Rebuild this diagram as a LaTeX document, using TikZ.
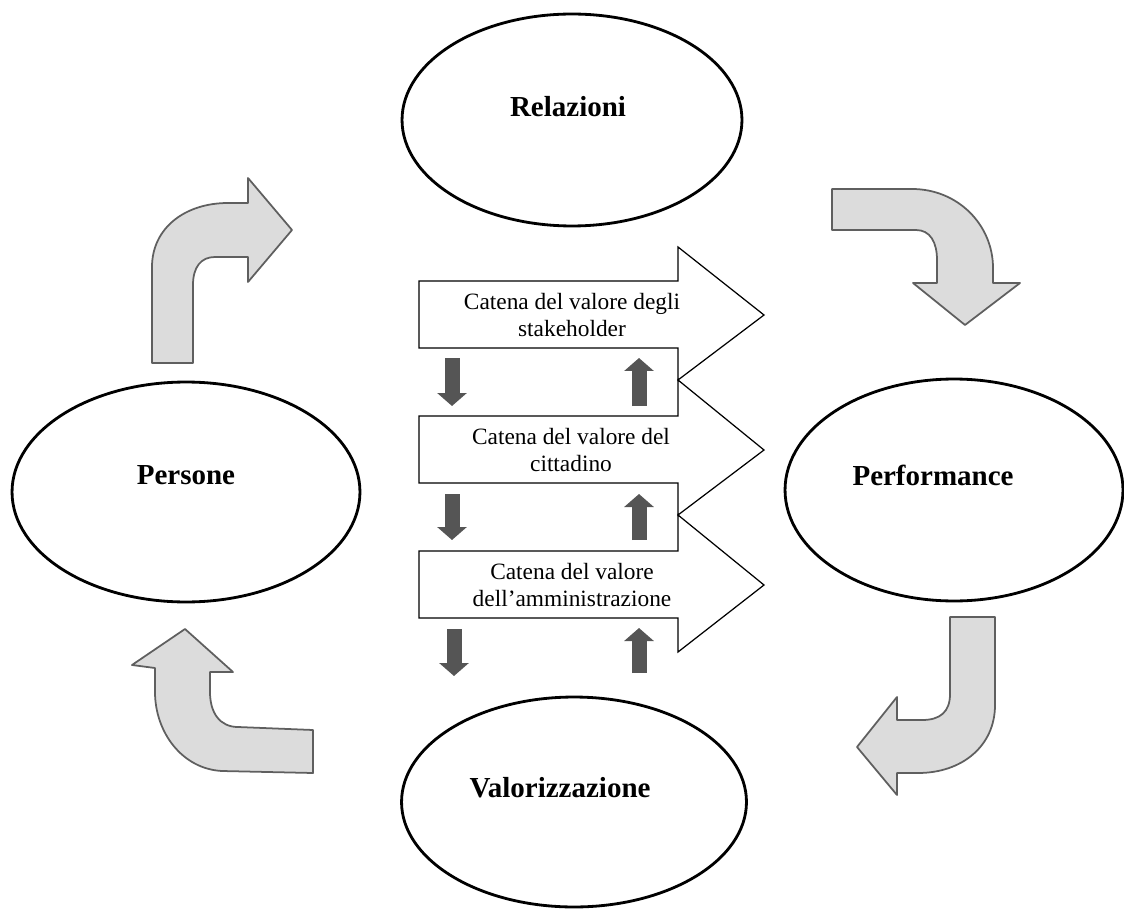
\documentclass[tikz,border=0pt]{standalone}
\usepackage{fontspec}
\setmainfont{Liberation Serif}
\usetikzlibrary{arrows.meta,calc,shapes.geometric}
\definecolor{turnfill}{RGB}{220,220,220}
\definecolor{turndraw}{RGB}{95,95,95}
\definecolor{passgrey}{RGB}{85,85,85}
\tikzset{
    area/.style={ellipse, draw, line width=1.6pt, inner sep=0pt},
    areatitle/.style={font=\fontsize{16.5}{19}\selectfont\bfseries},
    chainarrow/.style={draw, line width=0.7pt, fill=white, line join=miter},
    chaintext/.style={font=\fontsize{13.3}{15.5}\selectfont, align=center},
    turnarrow/.style={fill=turnfill, draw=turndraw, line width=1pt, line join=round},
    passing/.style={line width=0.3cm, draw=passgrey,
                    -{Triangle[width=0.58cm,length=0.26cm]}},
}

\begin{document}
\begin{tikzpicture}[x=0.02cm, y=-0.02cm]
    \path[use as bounding box] (0,0) rectangle (1124,908);

    % the four areas
    \node[area, minimum width=6.8cm, minimum height=4.24cm] (relazioni) at (572,120) {};
    \node[area, minimum width=6.96cm, minimum height=4.4cm] (persone) at (186,492) {};
    \node[area, minimum width=6.76cm, minimum height=4.44cm] (performance) at (954,490) {};
    \node[area, minimum width=6.9cm, minimum height=4.2cm] (valorizzazione) at (574,802) {};
    \node[areatitle] (relazionitext) at (568,107) {Relazioni};
    \node[areatitle] (personetext) at (186,475) {Persone};
    \node[areatitle] (performancetext) at (933,475) {Performance};
    \node[areatitle] (valorizzazionetext) at (560,788) {Valorizzazione};

    % the three value chains
    \draw[chainarrow] (419,281) -- (678,281) -- (678,247) -- (764,315)
        -- (678,380) -- (678,348) -- (419,348) -- cycle;
    \draw[chainarrow] (419,416) -- (678,416) -- (678,380) -- (764,450)
        -- (678,515) -- (678,483) -- (419,483) -- cycle;
    \draw[chainarrow] (419,551) -- (678,551) -- (678,515) -- (764,585)
        -- (678,652) -- (678,618) -- (419,618) -- cycle;
    \node[chaintext] (stakeholder) at (572,315) {Catena del valore degli\\stakeholder};
    \node[chaintext] (cittadino) at (571,450) {Catena del valore del\\cittadino};
    \node[chaintext] (amministrazione) at (572,585) {Catena del valore\\dell'amministrazione};

    \draw[passing] (452,358) -- (452,406);
    \draw[passing] (639,406) -- (639,358);
    \draw[passing] (452,494) -- (452,540);
    \draw[passing] (639,540) -- (639,494);
    \draw[passing] (454,629) -- (454,676);
    \draw[passing] (639,673) -- (639,628);

    % the cycle of bent arrows
    \draw[turnarrow] (152,363) -- (152,267) .. controls (152,228) and (185,203) .. (228,203)
        -- (248,203) -- (248,178) -- (292,230) -- (248,282) -- (248,257) -- (215,257)
        .. controls (201,257) and (193,267) .. (193,285) -- (193,363) -- cycle;
    \draw[turnarrow] (832,189) -- (912,189) .. controls (958,189) and (993,225) .. (993,268)
        -- (993,283) -- (1020,283) -- (965,325) -- (913,283) -- (937,283) -- (937,260)
        .. controls (937,242) and (930,230) .. (916,230) -- (832,230) -- cycle;
    \draw[turnarrow] (950,617) -- (995,617) -- (995,705) .. controls (995,746) and (962,773) .. (918,773)
        -- (897,773) -- (897,795) -- (857,747) -- (897,697) -- (897,720) -- (922,720)
        .. controls (940,720) and (950,712) .. (950,694) -- cycle;
    \draw[turnarrow] (313,730) -- (313,773) -- (222,771) .. controls (182,769) and (155,732) .. (155,692)
        -- (155,668) -- (132,665) -- (185,629) -- (233,672) -- (210,672) -- (210,692)
        .. controls (210,713) and (220,727) .. (238,727) -- cycle;
\end{tikzpicture}
\end{document}
